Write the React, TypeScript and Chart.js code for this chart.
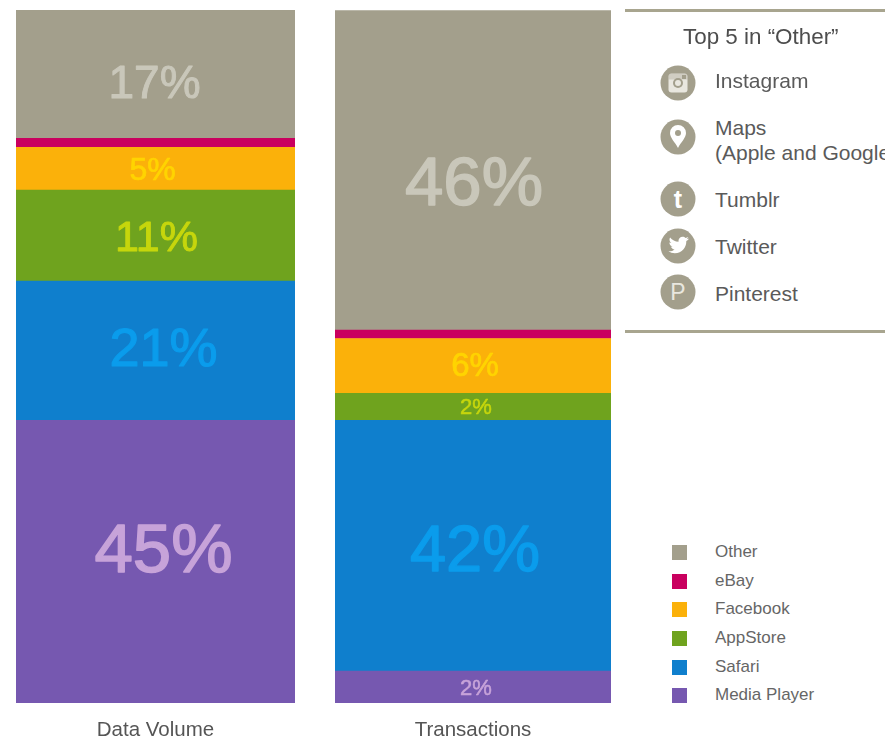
import React, { useEffect, useRef } from "react";
import { Chart, registerables } from "chart.js";

Chart.register(...registerables);

const FONT = '"Liberation Sans", Arial, sans-serif';

// Stack order, bottom to top
const segments = ["Media Player", "Safari", "AppStore", "Facebook", "eBay", "Other"];
const segmentColors = ["#7658b0", "#0f7fcd", "#6fa31e", "#fbb10a", "#c9005f", "#a39f8c"];
const labelColors = ["#c7a3d9", "#0a9cec", "#c6d60c", "#ffd400", "#c9005f", "#c9c7ba"];

// Drawn share of each bar (bottom to top)
const dataVolumeHeights = [40.8, 20.1, 13.1, 6.2, 1.3, 18.5];
const transactionsHeights = [4.6, 36.2, 3.9, 7.9, 1.2, 46.1];

// Printed percentages (bottom to top); eBay has none
const dataVolumeLabels = ["45%", "21%", "11%", "5%", "", "17%"];
const transactionsLabels = ["2%", "42%", "2%", "6%", "", "46%"];

// Label styling: size and small offset from the segment's centre
const dataVolumeLabelStyle = [
  { size: 69, dx: 8, dy: -9 },
  { size: 54, dx: 8, dy: 0 },
  { size: 43, dx: 1, dy: 4 },
  { size: 32, dx: -3, dy: 2 },
  { size: 0, dx: 0, dy: 0 },
  { size: 46, dx: -1, dy: 11 },
];
const transactionsLabelStyle = [
  { size: 22, dx: 3, dy: 2 },
  { size: 65, dx: 2, dy: 7 },
  { size: 22, dx: 3, dy: 1 },
  { size: 33, dx: 2, dy: 1 },
  { size: 0, dx: 0, dy: 0 },
  { size: 69, dx: 1, dy: 16 },
];

const legendOrder = ["Other", "eBay", "Facebook", "AppStore", "Safari", "Media Player"];
const legendTops = [552, 581, 609, 638, 667, 695];

const otherTitle = "Top 5 in \u201COther\u201D";
const otherItems = [
  { icon: "instagram", lines: ["Instagram"], iconY: 83, textY: [81] },
  { icon: "maps", lines: ["Maps", "(Apple and Google)"], iconY: 137, textY: [128, 153] },
  { icon: "tumblr", lines: ["Tumblr"], iconY: 199, textY: [200] },
  { icon: "twitter", lines: ["Twitter"], iconY: 246, textY: [247] },
  { icon: "pinterest", lines: ["Pinterest"], iconY: 292, textY: [294] },
];

type LabelStyle = { size: number; dx: number; dy: number };

function makeLabelPlugin(labels: string[], styles: LabelStyle[]) {
  return {
    id: "segmentLabels",
    afterDatasetsDraw(chart: any) {
      const ctx = chart.ctx;
      labels.forEach((text, i) => {
        if (!text) return;
        const bar = chart.getDatasetMeta(i).data[0];
        const s = styles[i];
        const x = bar.x + s.dx;
        const y = (bar.y + bar.base) / 2 + s.dy;
        ctx.save();
        ctx.font = `${s.size}px ${FONT}`;
        ctx.fillStyle = labelColors[i];
        ctx.strokeStyle = labelColors[i];
        ctx.lineWidth = s.size * 0.022;
        ctx.lineJoin = "round";
        ctx.textAlign = "center";
        ctx.textBaseline = "middle";
        ctx.strokeText(text, x, y);
        ctx.fillText(text, x, y);
        ctx.restore();
      });
    },
  };
}

function StackedBar(props: {
  name: string;
  heights: number[];
  labels: string[];
  styles: LabelStyle[];
  left: number;
  width: number;
  padLeft: number;
  padRight: number;
}) {
  const ref = useRef<HTMLCanvasElement>(null);
  useEffect(() => {
    const chart = new Chart(ref.current as HTMLCanvasElement, {
      type: "bar",
      data: {
        labels: [props.name],
        datasets: segments.map((seg, i) => ({
          label: seg,
          data: [props.heights[i]],
          backgroundColor: segmentColors[i],
          borderWidth: 0,
          barPercentage: 1,
          categoryPercentage: 1,
        })),
      },
      options: {
        responsive: false,
        animation: false,
        layout: { padding: { left: props.padLeft, right: props.padRight, top: 10, bottom: 0 } },
        plugins: { legend: { display: false }, tooltip: { enabled: false } },
        scales: {
          x: {
            stacked: true,
            grid: { display: false },
            border: { display: false },
            ticks: {
              color: "#555555",
              font: { family: FONT, size: 20.5 },
              padding: 7,
              maxRotation: 0,
              autoSkip: false,
            },
            afterFit(scale: any) {
              scale.height = 37;
            },
          },
          y: { stacked: true, display: false, min: 0, max: 100 },
        },
      },
      plugins: [makeLabelPlugin(props.labels, props.styles)],
    } as any);
    return () => chart.destroy();
  }, []);
  return (
    <canvas
      ref={ref}
      width={props.width}
      height={740}
      style={{ position: "absolute", left: props.left, top: 0, display: "block" }}
    />
  );
}

function Icon({ kind, y }: { kind: string; y: number }) {
  const c = "#a39f8c";
  return (
    <svg
      width={36}
      height={36}
      viewBox="-18 -18 36 36"
      style={{ position: "absolute", left: 660, top: y - 18 }}
    >
      <circle r={17.5} fill={c} />
      {kind === "instagram" && (
        <g>
          <rect x={-9.5} y={-9.5} width={19} height={19} rx={3} fill="#e9e7df" />
          <rect x={-9.5} y={-9.5} width={19} height={6} fill={c} opacity={0.35} />
          <circle r={5} fill={c} />
          <circle r={3} fill="#e9e7df" />
          <rect x={4} y={-8} width={4} height={4} fill={c} />
        </g>
      )}
      {kind === "maps" && (
        <g>
          <path d="M0 11 C-3 5 -8 1 -8 -4 A8 8 0 0 1 8 -4 C8 1 3 5 0 11 Z" fill="#ffffff" />
          <circle cy={-4} r={3} fill={c} />
        </g>
      )}
      {kind === "tumblr" && (
        <text
          x={0}
          y={9}
          textAnchor="middle"
          fontFamily={FONT}
          fontWeight="bold"
          fontSize={25}
          fill="#ffffff"
        >
          t
        </text>
      )}
      {kind === "twitter" && (
        <path
          d="M11 -7.5 C10 -7 9.3 -6.8 8.5 -6.7 C9.4 -7.2 10 -8 10.3 -9 C9.5 -8.5 8.6 -8.2 7.6 -8 C6.8 -8.8 5.8 -9.3 4.6 -9.3 C2.3 -9.3 0.5 -7.4 0.5 -5.2 C0.5 -4.9 0.5 -4.6 0.6 -4.3 C-2.8 -4.5 -5.9 -6.1 -7.9 -8.6 C-8.3 -8 -8.5 -7.3 -8.5 -6.5 C-8.5 -5.1 -7.8 -3.8 -6.7 -3.1 C-7.4 -3.1 -8 -3.3 -8.6 -3.6 C-8.6 -1.6 -7.2 0.1 -5.3 0.5 C-5.9 0.7 -6.6 0.7 -7.2 0.6 C-6.7 2.2 -5.1 3.4 -3.4 3.5 C-5.2 4.9 -7.4 5.6 -9.6 5.3 C-7.7 6.5 -5.5 7.2 -3.2 7.2 C4.2 7.2 8.3 1 8.3 -4.3 C8.3 -4.5 8.3 -4.7 8.3 -4.9 C9.6 -5.6 10.4 -6.5 11 -7.5 Z"
          fill="#ffffff"
        />
      )}
      {kind === "pinterest" && (
        <text
          x={0}
          y={8}
          textAnchor="middle"
          fontFamily={FONT}
          fontSize={23}
          fill="#e9e7df"
        >
          P
        </text>
      )}
    </svg>
  );
}

const textStyle = (y: number, left: number, size: number, color: string): React.CSSProperties => ({
  position: "absolute",
  left,
  top: y - 15,
  height: 30,
  lineHeight: "30px",
  fontFamily: FONT,
  fontSize: size,
  color,
  whiteSpace: "nowrap",
});

const ruleStyle = (top: number): React.CSSProperties => ({
  position: "absolute",
  left: 625,
  width: 260,
  top,
  height: 3,
  background: "#a8a58f",
});

export default function App() {
  useEffect(() => {
    document.body.style.margin = "0";
  }, []);
  return (
    <div
      style={{
        position: "fixed",
        left: 0,
        top: 0,
        width: 885,
        height: 740,
        overflow: "hidden",
        background: "#ffffff",
        filter: "blur(0.4px)",
      }}
    >
      <StackedBar
        name="Data Volume"
        heights={dataVolumeHeights}
        labels={dataVolumeLabels}
        styles={dataVolumeLabelStyle}
        left={0}
        width={315}
        padLeft={16}
        padRight={20}
      />
      <StackedBar
        name="Transactions"
        heights={transactionsHeights}
        labels={transactionsLabels}
        styles={transactionsLabelStyle}
        left={315}
        width={315}
        padLeft={20}
        padRight={19}
      />
      <div style={ruleStyle(9)} />
      <div style={ruleStyle(330)} />
      <div style={textStyle(37, 683, 22.4, "#4d4d4d")}>{otherTitle}</div>
      {otherItems.map((item) => (
        <React.Fragment key={item.icon}>
          <Icon kind={item.icon} y={item.iconY} />
          {item.lines.map((line, i) => (
            <div key={line} style={textStyle(item.textY[i], 715, 21, "#5a5a5a")}>
              {line}
            </div>
          ))}
        </React.Fragment>
      ))}
      {legendOrder.map((name, i) => (
        <React.Fragment key={name}>
          <div
            style={{
              position: "absolute",
              left: 672,
              top: legendTops[i] - 7,
              width: 15,
              height: 15,
              background: segmentColors[segments.indexOf(name)],
            }}
          />
          <div style={textStyle(legendTops[i], 715, 17, "#666666")}>{name}</div>
        </React.Fragment>
      ))}
    </div>
  );
}
